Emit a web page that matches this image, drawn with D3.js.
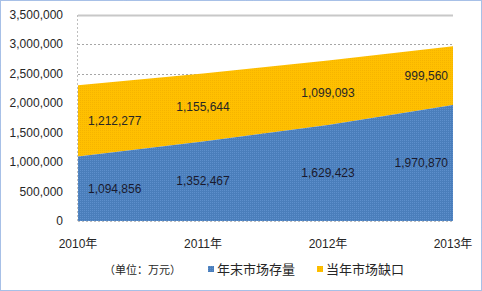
<!DOCTYPE html>
<html>
<head>
<meta charset="utf-8">
<script src="https://d3js.org/d3.v7.min.js"></script>
<style>
  body { margin: 0; background: #fff; }
  svg { display: block; }
</style>
</head>
<body>
<div id="chart"></div>
<script>
// Chart data
var years = ["2010年", "2011年", "2012年", "2013年"];
var stock = [1094856, 1352467, 1629423, 1970870];   // 年末市场存量
var gap = [1212277, 1155644, 1099093, 999560];      // 当年市场缺口
var yTicks = [0, 500000, 1000000, 1500000, 2000000, 2500000, 3000000, 3500000];
var seriesNames = ["年末市场存量", "当年市场缺口"];
var unitLabel = "（单位：万元）";

function init() {
    var w = 482;
    var h = 291;
    var left = 78, right = 453, top = 15, bottom = 221;
    var blue = "#4a7ebb";
    var yellow = "#ffc000";
    var textColor = "#262626";

    var svg = d3.select("#chart")
                .append("svg")
                .attr("width", w)
                .attr("height", h);

    // fine dotted textures like the original fills
    var defs = svg.append("defs");
    function texture(id, base, dot) {
        var p = defs.append("pattern")
            .attr("id", id)
            .attr("width", 2)
            .attr("height", 2)
            .attr("patternUnits", "userSpaceOnUse");
        p.append("rect").attr("width", 2).attr("height", 2).attr("fill", base);
        p.append("rect").attr("width", 1).attr("height", 1).attr("fill", dot);
    }
    texture("blueTex", blue, "#5d8fcc");
    texture("yellowTex", yellow, "#f5b400");

    // background and dotted outer border
    svg.append("rect")
        .attr("x", 0.5).attr("y", 0.5)
        .attr("width", w - 1).attr("height", h - 1)
        .attr("fill", "#fff")
        .attr("stroke", "#4f81cf")
        .attr("stroke-dasharray", "1,1");

    var xScale = d3.scalePoint()
                    .domain(d3.range(years.length))
                    .range([left, right]);

    var yScale = d3.scaleLinear()
                    .domain([0, 3500000])
                    .range([bottom, top]);

    // gridlines (dashed), top one solid
    svg.append("g")
        .selectAll("line")
        .data(yTicks.slice(1))
        .enter()
        .append("line")
        .attr("x1", left)
        .attr("x2", right)
        .attr("y1", function(d) { return Math.round(yScale(d)) + 0.5; })
        .attr("y2", function(d) { return Math.round(yScale(d)) + 0.5; })
        .attr("stroke", function(d) { return d === 3500000 ? "#c8c8c8" : "#a6a6a6"; })
        .attr("stroke-width", function(d) { return d === 3500000 ? 2 : 1; })
        .attr("stroke-dasharray", function(d) { return d === 3500000 ? null : "2,2"; });

    // stacked areas
    var stacked = stock.map(function(d, i) { return d + gap[i]; });

    var areaStock = d3.area()
        .x(function(d, i) { return xScale(i); })
        .y0(yScale(0))
        .y1(function(d) { return yScale(d); });

    var areaGap = d3.area()
        .x(function(d, i) { return xScale(i); })
        .y0(function(d, i) { return yScale(stock[i]); })
        .y1(function(d) { return yScale(d); });

    svg.append("path")
        .datum(stacked)
        .attr("d", areaGap)
        .attr("fill", "url(#yellowTex)");

    svg.append("path")
        .datum(stock)
        .attr("d", areaStock)
        .attr("fill", "url(#blueTex)");

    // left axis line and baseline (dashed grey)
    svg.append("line")
        .attr("x1", left - 0.5).attr("x2", left - 0.5)
        .attr("y1", yScale(3500000)).attr("y2", yScale(0))
        .attr("stroke", "#bfbfbf")
        .attr("stroke-dasharray", "2,2");
    svg.append("line")
        .attr("x1", left).attr("x2", right)
        .attr("y1", yScale(0) + 0.5).attr("y2", yScale(0) + 0.5)
        .attr("stroke", "#bfbfbf")
        .attr("stroke-dasharray", "2,2");

    // y tick labels
    var fmt = d3.format(",");
    svg.append("g")
        .selectAll("text")
        .data(yTicks)
        .enter()
        .append("text")
        .attr("x", left - 15)
        .attr("y", function(d) { return yScale(d) + 4; })
        .attr("text-anchor", "end")
        .attr("font-family", "Liberation Sans, Arial, sans-serif")
        .attr("font-size", "12px")
        .attr("fill", textColor)
        .text(function(d) { return fmt(d); });

    // x tick labels
    svg.append("g")
        .selectAll("text")
        .data(years)
        .enter()
        .append("text")
        .attr("x", function(d, i) { return xScale(i); })
        .attr("y", 248)
        .attr("text-anchor", "middle")
        .attr("font-family", "Liberation Sans, 'Noto Sans CJK SC', sans-serif")
        .attr("font-size", "12px")
        .attr("fill", textColor)
        .text(function(d) { return d; });

    // data labels: first one starts inside, last one ends inside
    function labelX(i) {
        if (i === 0) return xScale(i) + 10;
        if (i === years.length - 1) return xScale(i) - 5;
        return xScale(i);
    }
    function labelAnchor(i) {
        if (i === 0) return "start";
        if (i === years.length - 1) return "end";
        return "middle";
    }

    svg.append("g")
        .selectAll("text")
        .data(stock)
        .enter()
        .append("text")
        .attr("x", function(d, i) { return labelX(i); })
        .attr("y", function(d) { return yScale(d / 2) + 4; })
        .attr("text-anchor", function(d, i) { return labelAnchor(i); })
        .attr("font-family", "Liberation Sans, Arial, sans-serif")
        .attr("font-size", "12px")
        .attr("fill", "#1a1a2e")
        .text(function(d) { return fmt(d); });

    svg.append("g")
        .selectAll("text")
        .data(gap)
        .enter()
        .append("text")
        .attr("x", function(d, i) { return labelX(i); })
        .attr("y", function(d, i) { return yScale(stock[i] + d / 2) + 4; })
        .attr("text-anchor", function(d, i) { return labelAnchor(i); })
        .attr("font-family", "Liberation Sans, Arial, sans-serif")
        .attr("font-size", "12px")
        .attr("fill", "#262626")
        .text(function(d) { return fmt(d); });

    // legend
    var legendY = 274;
    svg.append("text")
        .attr("x", 104)
        .attr("y", legendY)
        .attr("font-family", "'Noto Sans CJK SC', sans-serif")
        .attr("font-size", "11px")
        .attr("fill", textColor)
        .text(unitLabel);

    var legendItems = [
        { name: seriesNames[0], fill: "url(#blueTex)", x: 208 },
        { name: seriesNames[1], fill: "url(#yellowTex)", x: 317 }
    ];
    var lg = svg.append("g")
        .selectAll("g")
        .data(legendItems)
        .enter()
        .append("g");
    lg.append("rect")
        .attr("x", function(d) { return d.x; })
        .attr("y", legendY - 8)
        .attr("width", 6)
        .attr("height", 6)
        .attr("fill", function(d) { return d.fill; });
    lg.append("text")
        .attr("x", function(d) { return d.x + 9; })
        .attr("y", legendY)
        .attr("font-family", "'Noto Sans CJK SC', sans-serif")
        .attr("font-size", "13px")
        .attr("fill", textColor)
        .text(function(d) { return d.name; });
}

window.onload = init;
</script>
</body>
</html>
